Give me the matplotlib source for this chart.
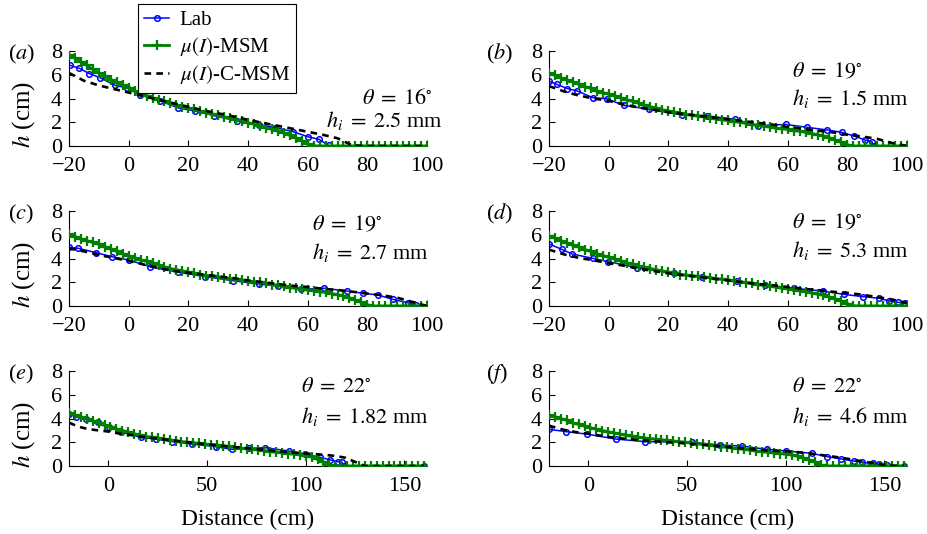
import numpy as np
import matplotlib
matplotlib.use("Agg")
import matplotlib.pyplot as plt

plt.rcParams['font.family'] = ['Liberation Serif', 'DejaVu Serif']
plt.rcParams['mathtext.fontset'] = 'stix'
plt.rcParams['font.size'] = 15

# ---------- data ----------
# (a) theta = 16, hi = 2.5 mm
lab_a_x = [-19.7, -16.6, -13.2, -9.6, -4.5, -0.6, 3.9, 10.6, 16.7, 22.4, 28.7, 36.4, 43.6, 49.2, 55.2, 60.0, 63.8, 67.0]
lab_a_y = [6.8, 6.55, 6.1, 5.75, 5.1, 4.9, 4.3, 3.8, 3.2, 2.95, 2.55, 2.1, 1.8, 1.55, 1.2, 0.78, 0.56, 0.05]
msm_a_y = [7.7, 7.4, 7.1, 6.8, 6.45, 6.15, 5.9, 5.6, 5.35, 5.1, 4.9, 4.65, 4.45, 4.25, 4.05, 3.9,
           3.75, 3.6, 3.45, 3.3, 3.2, 3.1, 2.95, 2.8, 2.7, 2.6, 2.45, 2.35, 2.2, 2.1, 1.95, 1.85,
           1.7, 1.55, 1.4, 1.25, 1.1, 0.9, 0.7, 0.45, 0.15] + [0.0] * 20
cmsm_a_y = [6.15, 5.5, 5.1, 4.8, 4.5, 4.2, 3.9, 3.6, 3.3, 3.0, 2.75, 2.5, 2.2, 1.95, 1.7, 1.45,
            1.2, 0.95, 0.65, 0.05, 0.0, 0.0, 0.0, 0.0, 0.0]

# (b) theta = 19, hi = 1.5 mm
lab_b_x = [-20.0, -17.4, -13.8, -10.5, -5.3, -0.6, 5.0, 13.6, 24.6, 32.8, 42.2, 50.1, 59.3, 66.6, 73.3, 78.1, 82.3, 85.9, 88.2, 88.8]
lab_b_y = [5.47, 5.19, 4.83, 4.63, 4.07, 3.98, 3.42, 3.09, 2.61, 2.55, 2.25, 1.71, 1.82, 1.57, 1.35, 1.15, 0.84, 0.51, 0.37, 0.02]
msm_b_y = [6.15, 5.95, 5.75, 5.55, 5.4, 5.2, 5.0, 4.85, 4.65, 4.5, 4.35, 4.2, 4.05, 3.9, 3.75, 3.6,
           3.45, 3.3, 3.2, 3.05, 2.95, 2.85, 2.75, 2.65, 2.6, 2.5, 2.45, 2.35, 2.3, 2.2, 2.15, 2.05,
           2.0, 1.9, 1.8, 1.75, 1.65, 1.6, 1.5, 1.45, 1.4, 1.3, 1.25, 1.15, 1.05, 0.95, 0.85, 0.7,
           0.5, 0.3, 0.1] + [0.0] * 10
cmsm_b_y = [5.05, 4.6, 4.25, 4.0, 3.8, 3.5, 3.25, 3.05, 2.85, 2.7, 2.55, 2.4, 2.25, 2.1, 1.95, 1.8,
            1.6, 1.45, 1.3, 1.15, 0.95, 0.8, 0.6, 0.25, 0.0]

# (c) theta = 19, hi = 2.7 mm
lab_c_x = [-19.9, -16.9, -10.9, -5.6, 0.0, 7.2, 16.7, 25.7, 35.0, 43.6, 50.0, 57.9, 65.5, 73.1, 78.7, 83.6, 88.5, 93.5, 96.3]
lab_c_y = [4.94, 4.86, 4.49, 4.15, 3.87, 3.31, 2.84, 2.47, 2.13, 1.85, 1.68, 1.4, 1.49, 1.26, 1.07, 0.93, 0.56, 0.28, 0.08]
msm_c_y = [6.05, 5.85, 5.65, 5.5, 5.35, 5.2, 5.0, 4.8, 4.6, 4.4, 4.2, 4.05, 3.9, 3.75, 3.6, 3.45,
           3.3, 3.15, 3.05, 2.95, 2.85, 2.75, 2.65, 2.55, 2.5, 2.45, 2.4, 2.3, 2.25, 2.15, 2.1, 2.05,
           2.0, 1.9, 1.8, 1.75, 1.65, 1.55, 1.5, 1.4, 1.35, 1.3, 1.2, 1.15, 1.05, 0.95, 0.85, 0.7,
           0.5, 0.3, 0.1] + [0.0] * 10
cmsm_c_y = [4.85, 4.6, 4.3, 4.05, 3.8, 3.5, 3.2, 2.95, 2.8, 2.65, 2.5, 2.35, 2.15, 2.0, 1.85, 1.7,
            1.6, 1.45, 1.35, 1.2, 1.05, 0.9, 0.7, 0.35, 0.0]

# (d) theta = 19, hi = 5.3 mm
lab_d_x = [-19.9, -15.7, -12.2, -5.3, -0.1, 9.5, 21.8, 31.3, 43.1, 52.4, 62.1, 71.7, 78.9, 85.1, 90.7, 94.1, 96.9, 99.4]
lab_d_y = [5.22, 4.77, 4.38, 4.01, 3.73, 3.23, 2.75, 2.42, 2.13, 1.77, 1.49, 1.26, 0.98, 0.79, 0.65, 0.42, 0.31, 0.22]
msm_d_y = [5.9, 5.7, 5.5, 5.3, 5.1, 4.95, 4.75, 4.6, 4.4, 4.25, 4.1, 3.95, 3.8, 3.65, 3.5, 3.35,
           3.25, 3.15, 3.05, 2.95, 2.85, 2.75, 2.65, 2.6, 2.55, 2.5, 2.45, 2.4, 2.3, 2.25, 2.2, 2.1,
           2.05, 1.95, 1.9, 1.8, 1.75, 1.65, 1.6, 1.5, 1.45, 1.35, 1.3, 1.2, 1.1, 1.0, 0.9, 0.75,
           0.6, 0.4, 0.2, 0.02] + [0.0] * 9
cmsm_d_y = [4.75, 4.35, 4.05, 3.85, 3.6, 3.4, 3.15, 2.95, 2.75, 2.6, 2.45, 2.3, 2.15, 2.0, 1.85, 1.75,
            1.6, 1.45, 1.35, 1.2, 1.1, 0.95, 0.75, 0.55, 0.25]

# (e) theta = 22, hi = 1.82 mm
lab_e_x = [-20.0, -16.3, -11.2, -5.3, 0.3, 6.2, 16.3, 23.9, 32.3, 42.4, 54.3, 62.7, 71.1, 79.6, 91.4, 99.8, 107.4, 112.5, 116.5, 118.4, 119.5, 160.0]
lab_e_y = [4.41, 4.15, 3.96, 3.68, 3.31, 2.89, 2.41, 2.27, 2.05, 1.85, 1.63, 1.4, 1.49, 1.54, 1.26, 1.01, 0.73, 0.51, 0.36, 0.31, 0.0, 0.0]
msm_e_y = [4.45, 4.28, 4.1, 3.95, 3.78, 3.6, 3.42, 3.28, 3.12, 2.98, 2.85, 2.72, 2.58, 2.48, 2.42, 2.35,
           2.28, 2.2, 2.13, 2.06, 2.0, 1.95, 1.9, 1.85, 1.8, 1.75, 1.7, 1.65, 1.57, 1.5, 1.45, 1.4,
           1.35, 1.3, 1.22, 1.15, 1.1, 1.05, 1.0, 0.95, 0.85, 0.75, 0.55, 0.35, 0.1] + [0.0] * 16
cmsm_e_y = [3.65, 3.3, 3.1, 3.0, 2.9, 2.75, 2.65, 2.5, 2.4, 2.3, 2.2, 2.1, 2.0, 1.9, 1.82, 1.75,
            1.65, 1.58, 1.5, 1.42, 1.35, 1.25, 1.18, 1.12, 1.05, 1.0, 0.93, 0.85, 0.7, 0.35, 0.0] + [0.0] * 6

# (f) theta = 22, hi = 4.6 mm
lab_f_x = [-20.0, -11.2, -0.8, 13.8, 28.9, 52.4, 66.7, 77.8, 90.4, 100.3, 113.1, 121.0, 128.2, 134.4, 138.6, 144.2, 147.4, 151.2, 160.0]
lab_f_y = [3.09, 2.89, 2.69, 2.27, 2.05, 2.0, 1.77, 1.68, 1.4, 1.26, 1.07, 0.79, 0.59, 0.42, 0.31, 0.22, 0.14, 0.05, 0.0]
msm_f_y = [4.3, 4.15, 4.0, 3.85, 3.62, 3.5, 3.35, 3.22, 3.1, 2.98, 2.88, 2.78, 2.68, 2.58, 2.5, 2.43,
           2.37, 2.31, 2.26, 2.2, 2.15, 2.1, 2.05, 2.0, 1.95, 1.88, 1.82, 1.76, 1.7, 1.64, 1.58, 1.52,
           1.46, 1.4, 1.33, 1.26, 1.2, 1.15, 1.1, 1.05, 1.0, 0.92, 0.82, 0.68, 0.5, 0.3, 0.08] + [0.0] * 14
cmsm_f_y = [3.4, 3.15, 2.95, 2.82, 2.72, 2.58, 2.45, 2.35, 2.27, 2.2, 2.13, 2.07, 2.0, 1.95, 1.9, 1.82,
            1.75, 1.68, 1.6, 1.52, 1.45, 1.38, 1.32, 1.28, 1.24, 1.18, 1.1, 1.0, 0.88, 0.77, 0.65, 0.5,
            0.37, 0.22, 0.1, 0.02, 0.0]

panels = ['a', 'b', 'c', 'd', 'e', 'f']
thetas = ['16', '19', '19', '19', '22', '22']
his = ['2.5', '1.5', '2.7', '5.3', '1.82', '4.6']
labs = [(lab_a_x, lab_a_y), (lab_b_x, lab_b_y), (lab_c_x, lab_c_y),
        (lab_d_x, lab_d_y), (lab_e_x, lab_e_y), (lab_f_x, lab_f_y)]
msms = [msm_a_y, msm_b_y, msm_c_y, msm_d_y, msm_e_y, msm_f_y]
cmsms = [cmsm_a_y, cmsm_b_y, cmsm_c_y, cmsm_d_y, cmsm_e_y, cmsm_f_y]

# ---------- layout (pixels of a 927x534 figure) ----------
W, H = 927, 534
fig = plt.figure(figsize=(W / 100, H / 100), dpi=100)

lefts = [69, 549]
bottoms = [146, 306, 466]
aw, ah = 358, 95

# annotation positions: (x, y of theta, y of h_i, align)
notes = [(443, 99, 120, 'right'), (792, 72, 98, 'left'),
         (312, 225, 252, 'left'), (792, 223, 251, 'left'),
         (301, 388, 417, 'left'), (792, 388, 417, 'left')]

blue = '#0000ff'
green = '#008000'

for i, p in enumerate(panels):
    r, c = divmod(i, 2)
    l, b = lefts[c], bottoms[r]
    ax = fig.add_axes([l / W, 1 - b / H, aw / W, ah / H])

    wide = r == 2
    if wide:
        msm_x = np.arange(-20, 161, 3)
        cmsm_x = np.arange(-20, 161, 5)
    else:
        msm_x = np.arange(-20, 101, 2)
        cmsm_x = np.arange(-20, 101, 5)

    lx, ly = labs[i]
    ax.plot(lx, ly, '-o', color=blue, lw=1.1, ms=4, mfc='none', mew=1.1, label='Lab', zorder=2)
    ax.plot(msm_x, msms[i], '-+', color=green, lw=2.0, ms=7, mew=1.6,
            label=r'$\mu(I)$-MSM', zorder=3)
    ax.plot(cmsm_x, cmsms[i], '--', color='black', lw=1.9, dashes=(2.5, 2),
            label=r'$\mu(I)$-C-MSM', zorder=4)

    if wide:
        ax.set_xlim(-20, 161.5)
        ax.set_xticks([0, 50, 100, 150])
        ax.set_xlabel('Distance (cm)', fontsize=17, labelpad=9)
    else:
        ax.set_xlim(-20, 100)
        ax.set_xticks(range(-20, 101, 20))
    ax.set_ylim(0, 8)
    ax.set_yticks(range(0, 9, 2))

    for s in ['top', 'right']:
        ax.spines[s].set_visible(False)
    ax.tick_params(direction='in', length=4, width=0.8, labelsize=16)
    ax.tick_params(axis='x', pad=8)
    ax.tick_params(axis='y', pad=5)

    if c == 0:
        ax.set_ylabel('$h$ (cm)', fontsize=18)
        ax.yaxis.set_label_coords(-0.09, 0.33)

    fig.text((8 if c == 0 else 486) / W, 1 - (bottoms[r] - ah + 3) / H,
             '($%s$)' % p, fontsize=16, va='center', ha='left')

    nx, ty, hy, al = notes[i]
    th = r'$\theta\;=\;%s^{\circ}$' % thetas[i]
    hh = r'$h_i\;=\;%s$ mm' % his[i]
    if al == 'right':
        fig.text(433 / W, 1 - ty / H, th, fontsize=16, va='center', ha='right')
    else:
        fig.text(nx / W, 1 - ty / H, th, fontsize=16, va='center', ha='left')
    fig.text(nx / W, 1 - hy / H, hh, fontsize=16, va='center', ha=al)

    if i == 0:
        handles, names = ax.get_legend_handles_labels()

leg = fig.legend(handles, names, loc='upper left', bbox_to_anchor=(138 / W, 1 - 4 / H),
                 borderaxespad=0, fancybox=False, edgecolor='black', framealpha=1,
                 fontsize=15, handlelength=1.2, borderpad=0.3, labelspacing=0.25,
                 handletextpad=0.5)
leg.get_frame().set_linewidth(0.8)

fig.savefig('out.png', dpi=100)
